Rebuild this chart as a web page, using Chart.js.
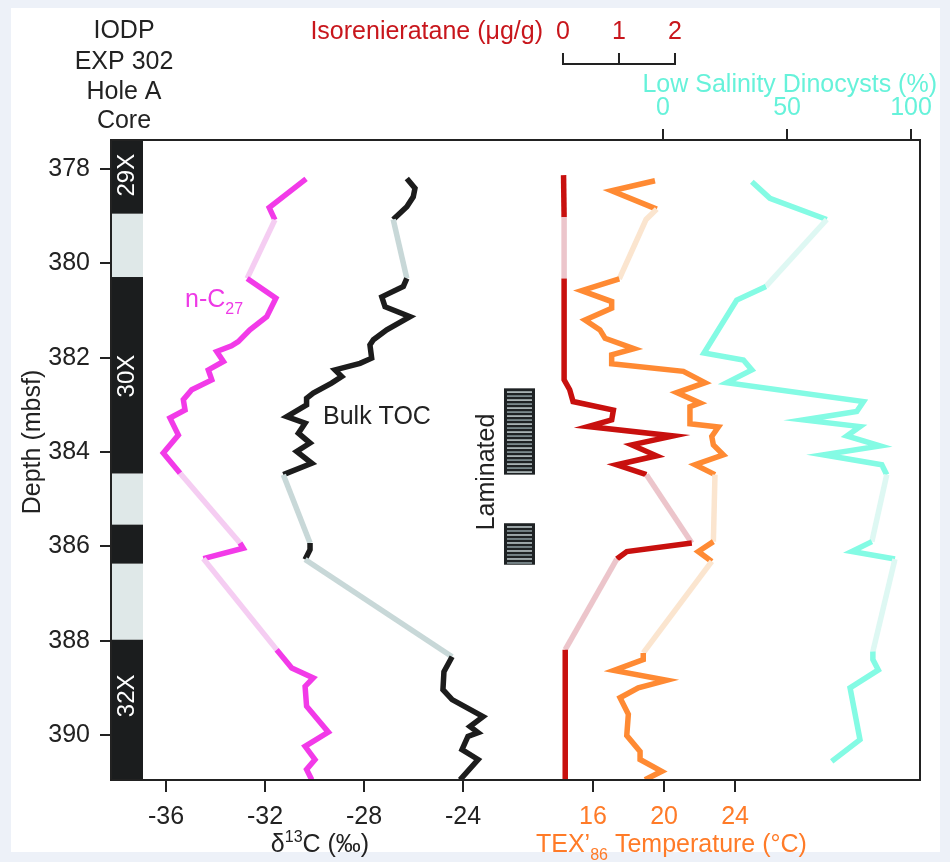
<!DOCTYPE html>
<html>
<head>
<meta charset="utf-8">
<script src="https://cdn.jsdelivr.net/npm/chart.js@4.4.0/dist/chart.umd.min.js"></script>
<style>
  html, body { margin: 0; padding: 0; background: #edf1f8; }
  canvas { display: block; }
</style>
</head>
<body>
<canvas id="chart" width="950" height="862"></canvas>
<script>
// Depths in mbsf
const nc27Depth = [378.21, 378.82, 379.08, 380.32, 380.74, 381.13, 381.41, 381.66, 381.75, 381.87, 382.08, 382.26, 382.47, 382.68, 382.89, 383.11, 383.28, 383.64, 384.02, 384.45, 385.93, 386.04, 386.26, 388.19, 388.58, 388.79, 388.97, 389.39, 389.94, 390.24, 390.52, 390.73, 390.95];
const nc27D13C = [-30.34, -31.83, -31.60, -32.72, -31.56, -31.93, -32.61, -33.08, -33.35, -33.95, -33.68, -34.29, -34.15, -34.96, -35.30, -35.23, -35.84, -35.50, -36.11, -35.43, -33.01, -32.88, -34.49, -31.53, -30.92, -30.05, -30.38, -30.32, -29.44, -30.38, -29.98, -30.32, -30.11];

const tocDepth = [378.20, 378.41, 378.59, 378.80, 379.07, 380.32, 380.49, 380.71, 380.92, 381.13, 381.41, 381.62, 381.73, 382.01, 382.12, 382.26, 382.40, 382.54, 382.75, 382.86, 383.00, 383.25, 383.39, 383.60, 383.81, 383.99, 384.24, 384.48, 385.93, 386.07, 386.28, 388.34, 388.66, 389.04, 389.25, 389.61, 389.82, 389.95, 390.03, 390.31, 390.52, 390.95];
const tocD13C = [-26.27, -25.94, -26.01, -26.27, -26.82, -26.27, -26.41, -27.28, -27.15, -26.14, -27.08, -27.62, -27.76, -27.69, -28.16, -29.17, -28.90, -29.31, -30.05, -30.32, -30.32, -31.12, -30.38, -30.65, -30.18, -30.72, -30.11, -31.26, -30.18, -30.18, -30.38, -24.44, -24.77, -24.81, -24.44, -23.19, -23.72, -23.39, -23.80, -24.04, -23.39, -24.12];

const isoDepth = [378.13, 379.02, 380.32, 382.47, 382.68, 382.93, 383.11, 383.32, 383.46, 383.66, 383.85, 384.08, 384.27, 384.48, 385.93, 386.11, 386.27, 388.19, 390.95];
const isoConc = [0.01, 0.02, 0.02, 0.02, 0.12, 0.18, 0.90, 0.87, 0.45, 1.97, 1.23, 1.67, 0.96, 1.49, 2.30, 1.14, 0.96, 0.04, 0.04];

const texDepth = [378.25, 378.46, 378.85, 379.07, 380.33, 380.58, 380.81, 380.95, 381.20, 381.41, 381.59, 381.81, 381.94, 382.13, 382.29, 382.53, 382.74, 382.96, 383.04, 383.40, 383.47, 383.67, 383.85, 384.06, 384.27, 384.48, 385.90, 386.11, 386.32, 388.26, 388.40, 388.63, 388.84, 389.00, 389.21, 389.56, 390.01, 390.35, 390.52, 390.77, 390.95];
const texTemp = [19.49, 17.05, 19.59, 18.99, 17.48, 15.36, 17.05, 17.05, 15.55, 16.39, 16.68, 18.31, 17.05, 17.05, 21.09, 22.31, 20.72, 22.03, 21.46, 21.46, 23.06, 22.69, 22.78, 23.34, 21.75, 22.87, 22.78, 21.93, 22.69, 18.83, 18.83, 17.18, 20.15, 18.55, 17.52, 17.99, 17.90, 18.65, 18.65, 19.87, 18.93];

const dinoDepth = [378.27, 378.62, 379.07, 380.49, 380.78, 381.90, 382.05, 382.26, 382.53, 382.93, 383.14, 383.32, 383.46, 383.66, 383.87, 384.06, 384.27, 384.48, 385.90, 386.11, 386.27, 388.23, 388.40, 388.62, 389.00, 390.10, 390.56];
const dinoPct = [35.8, 43.1, 66.0, 41.5, 29.7, 16.5, 32.4, 35.8, 25.7, 80.8, 78.1, 56.6, 79.4, 74.1, 87.5, 64.6, 88.2, 90.2, 84.2, 76.1, 93.5, 84.6, 84.6, 86.8, 75.4, 79.4, 68.0];

// core recovery column
const coreTop = [377.0, 378.95, 380.29, 384.46, 385.54, 386.37, 387.98];
const coreBase = [378.95, 380.29, 384.46, 385.54, 386.37, 387.98, 391.5];
const coreRecovered = [true, false, true, false, true, false, true];
const coreLabels = ['29X', '30X', '32X'];
const coreLabelDepth = [378.13, 382.39, 389.17];

// laminated intervals
const lamTop = [382.65, 385.51];
const lamBase = [384.48, 386.39];

// tick labels
const depthTicks = [378, 380, 382, 384, 386, 388, 390];
const d13cTicks = [-36, -32, -28, -24];
const texTicks = [16, 20, 24];
const isoTicks = [0, 1, 2];
const dinoTicks = [0, 50, 100];

const FONT = '"Liberation Sans", Arial, Helvetica, sans-serif';
const FS = 25;
const SUB = 16;
const INK = '#222';

function inGap(d) {
    for (let i = 0; i < coreTop.length; i++) {
        if (!coreRecovered[i] && d > coreTop[i] && d < coreBase[i]) return true;
    }
    return false;
}

function lineSet(label, axis, depths, values, color, faded) {
    return {
        label: label,
        xAxisID: axis,
        yAxisID: 'y',
        data: depths.map((d, i) => ({ x: values[i], y: d })),
        showLine: true,
        borderColor: color,
        borderWidth: 5.5,
        pointRadius: 0,
        borderJoinStyle: 'miter',
        borderCapStyle: 'butt',
        segment: {
            borderColor: ctx => inGap((ctx.p0.parsed.y + ctx.p1.parsed.y) / 2) ? faded : color
        }
    };
}

function text(ctx, str, x, y, color, align, size) {
    ctx.font = (size || FS) + 'px ' + FONT;
    ctx.fillStyle = color;
    ctx.textAlign = align || 'center';
    ctx.textBaseline = 'middle';
    ctx.fillText(str, x, y);
}

function vtext(ctx, str, x, y, color, size) {
    ctx.save();
    ctx.translate(x, y);
    ctx.rotate(-Math.PI / 2);
    text(ctx, str, 0, 0, color, 'center', size);
    ctx.restore();
}

function fixedTicks(list) {
    return scale => { scale.ticks = list.map(v => ({ value: v })); };
}

const decor = {
    id: 'decor',
    afterLayout(chart) {
        // TEX axis sits at the same level as the d13C axis; give its labels room
        const s = chart.scales.xT;
        s.bottom = s.top + 82;
        s.height = 82;
    },
    beforeDraw(chart) {
        const ctx = chart.ctx;
        ctx.save();
        ctx.fillStyle = '#edf1f8';
        ctx.fillRect(0, 0, chart.width, chart.height);
        ctx.fillStyle = '#ffffff';
        ctx.fillRect(11, 8, 929, 844);
        ctx.restore();
    },
    beforeDatasetsDraw(chart) {
        const ctx = chart.ctx;
        const ca = chart.chartArea;
        const y = chart.scales.y;
        ctx.save();
        ctx.beginPath();
        ctx.rect(ca.left, ca.top, ca.width, ca.height);
        ctx.clip();
        // core column
        for (let i = 0; i < coreTop.length; i++) {
            const t = y.getPixelForValue(coreTop[i]);
            const b = y.getPixelForValue(coreBase[i]);
            ctx.fillStyle = coreRecovered[i] ? '#1b1d1e' : '#dfe8e8';
            ctx.fillRect(ca.left, t, 32, b - t);
        }
        coreLabels.forEach((lab, i) => {
            vtext(ctx, lab, ca.left + 16, y.getPixelForValue(coreLabelDepth[i]), '#ffffff', 24);
        });
        // laminated boxes
        for (let i = 0; i < lamTop.length; i++) {
            const t = y.getPixelForValue(lamTop[i]);
            const b = y.getPixelForValue(lamBase[i]);
            const x0 = 504, w = 31;
            ctx.fillStyle = '#1e2224';
            ctx.fillRect(x0, t, w, b - t);
            let k = 0;
            for (let yy = t + 3; yy < b - 2; yy += 4) {
                ctx.fillStyle = k % 2 ? '#8e9ea2' : '#c3cfd1';
                ctx.fillRect(x0 + 3, yy, w - 6, 1.5);
                k++;
            }
        }
        ctx.restore();
    },
    afterDatasetsDraw(chart) {
        const ctx = chart.ctx;
        const ca = chart.chartArea;
        ctx.save();
        // frame
        ctx.strokeStyle = INK;
        ctx.lineWidth = 2;
        ctx.strokeRect(ca.left, ca.top, ca.width, ca.height);

        // header
        text(ctx, 'IODP', 124, 31, INK);
        text(ctx, 'EXP 302', 124, 62, INK);
        text(ctx, 'Hole A', 124, 92, INK);
        text(ctx, 'Core', 124, 121, INK);

        // isorenieratane bracket axis
        const xi = chart.scales.xI;
        const red = '#c8161c';
        text(ctx, 'Isorenieratane (\u03bcg/g)', 543, 32, red, 'right');
        ctx.strokeStyle = INK;
        ctx.lineWidth = 2;
        ctx.beginPath();
        ctx.moveTo(xi.getPixelForValue(isoTicks[0]), 64);
        ctx.lineTo(xi.getPixelForValue(isoTicks[isoTicks.length - 1]), 64);
        isoTicks.forEach(v => {
            const px = xi.getPixelForValue(v);
            ctx.moveTo(px, 53);
            ctx.lineTo(px, 65);
            text(ctx, String(v), px, 32, red);
        });
        ctx.stroke();

        // dinocyst title
        text(ctx, 'Low Salinity Dinocysts (%)', 937, 85, '#66f2da', 'right');

        // depth title
        vtext(ctx, 'Depth (mbsf)', 33, 442, INK);

        // d13C title
        ctx.font = FS + 'px ' + FONT;
        const wA = ctx.measureText('\u03b4').width;
        const wC = ctx.measureText('C (\u2030)').width;
        ctx.font = SUB + 'px ' + FONT;
        const wS = ctx.measureText('13').width;
        let x0 = 320 - (wA + wS + wC) / 2;
        text(ctx, '\u03b4', x0, 845, INK, 'left');
        text(ctx, '13', x0 + wA, 838, INK, 'left', SUB);
        text(ctx, 'C (\u2030)', x0 + wA + wS, 845, INK, 'left');

        // TEX title
        const orange = '#ff7b28';
        ctx.font = FS + 'px ' + FONT;
        const wT = ctx.measureText('TEX\u2019').width;
        ctx.font = SUB + 'px ' + FONT;
        const w86 = ctx.measureText('86').width;
        x0 = 536;
        text(ctx, 'TEX\u2019', x0, 845, orange, 'left');
        text(ctx, '86', x0 + wT, 856, orange, 'left', SUB);
        text(ctx, ' Temperature (\u00b0C)', x0 + wT + w86, 845, orange, 'left');

        // series labels
        const pink = '#ee3ae6';
        ctx.font = FS + 'px ' + FONT;
        const wn = ctx.measureText('n-C').width;
        text(ctx, 'n-C', 185, 300, pink, 'left');
        text(ctx, '27', 185 + wn, 310, pink, 'left', SUB);
        text(ctx, 'Bulk TOC', 323, 417, INK, 'left');
        vtext(ctx, 'Laminated', 487, 472, INK);
        ctx.restore();
    }
};

const tickFont = { family: FONT, size: FS };

new Chart(document.getElementById('chart'), {
    type: 'scatter',
    data: {
        datasets: [
            lineSet('n-C27', 'xC', nc27Depth, nc27D13C, '#f23ae8', '#f5cdf2'),
            lineSet('Bulk TOC', 'xC', tocDepth, tocD13C, '#1c1c1c', '#c8d8d8'),
            lineSet('Isorenieratane', 'xI', isoDepth, isoConc, '#c8100e', '#ecc5cb'),
            lineSet('TEX86', 'xT', texDepth, texTemp, '#ff8a33', '#fbe5cf'),
            lineSet('Low Salinity Dinocysts', 'xD', dinoDepth, dinoPct, '#84fbe4', '#def8f3')
        ]
    },
    options: {
        responsive: false,
        animation: false,
        devicePixelRatio: 1,
        layout: { padding: { left: 0, right: 30, top: 0, bottom: 0 }, autoPadding: false },
        plugins: { legend: { display: false }, tooltip: { enabled: false } },
        scales: {
            y: {
                type: 'linear', position: 'left', reverse: true,
                min: 377.385, max: 390.954,
                afterBuildTicks: fixedTicks(depthTicks),
                afterFit: s => { s.width = 111; },
                border: { display: false },
                grid: { drawOnChartArea: false, tickLength: 11, color: INK, lineWidth: 2 },
                ticks: { font: tickFont, color: INK, padding: 10, callback: v => String(v) }
            },
            xC: {
                type: 'linear', position: 'bottom', weight: 1,
                min: -38.222, max: -5.535,
                afterBuildTicks: fixedTicks(d13cTicks),
                afterFit: s => { s.height = 82; },
                border: { display: false },
                grid: { drawOnChartArea: false, tickLength: 12, color: INK, lineWidth: 2 },
                ticks: { font: tickFont, color: INK, padding: 10, maxRotation: 0, callback: v => String(v) }
            },
            xT: {
                type: 'linear', position: 'bottom', weight: 0,
                min: -11.155, max: 34.42,
                afterBuildTicks: fixedTicks(texTicks),
                afterFit: s => { s.height = 0; },
                border: { display: false },
                grid: { drawOnChartArea: false, tickLength: 12, color: INK, lineWidth: 2 },
                ticks: { font: tickFont, color: '#ff7b28', padding: 10, maxRotation: 0, callback: v => String(v) }
            },
            xI: {
                type: 'linear', position: 'top', display: false,
                min: -8.071, max: 6.375
            },
            xD: {
                type: 'linear', position: 'top',
                min: -222.58, max: 103.6,
                afterBuildTicks: fixedTicks(dinoTicks),
                afterFit: s => { s.height = 140; },
                border: { display: false },
                grid: { drawOnChartArea: false, tickLength: 11, color: INK, lineWidth: 2 },
                ticks: { font: tickFont, color: '#66f2da', padding: 6, maxRotation: 0, callback: v => String(v) }
            }
        }
    },
    plugins: [decor]
});
</script>
</body>
</html>
